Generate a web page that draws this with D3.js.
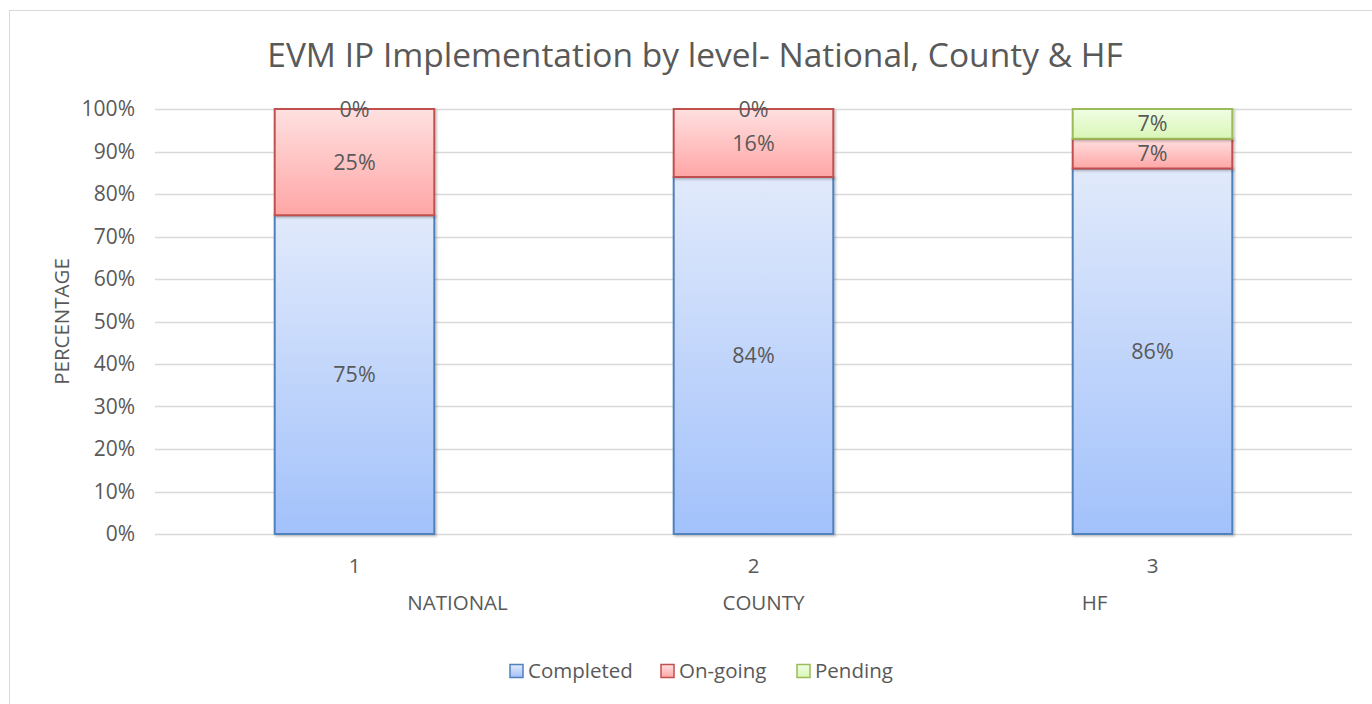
<!DOCTYPE html>
<html>
<head>
<meta charset="utf-8">
<script src="https://cdn.jsdelivr.net/npm/d3@7"></script>
<style>
  body { margin: 0; background: #fff; }
  svg { display: block; font-family: "Open Sans", "Liberation Sans", sans-serif; }
</style>
</head>
<body>
<script>
// chart data
var levels = ["1", "2", "3"];
var levelNames = ["NATIONAL", "COUNTY", "HF"];
var seriesNames = ["Completed", "On-going", "Pending"];
var completed = [75, 84, 86];
var ongoing = [25, 16, 7];
var pending = [0, 0, 7];
var yTicks = [0, 10, 20, 30, 40, 50, 60, 70, 80, 90, 100];

var width = 1372, height = 704;
var textCol = "#595959";

var rows = levels.map((l, i) => ({
    level: l, name: levelNames[i],
    "Completed": completed[i], "On-going": ongoing[i], "Pending": pending[i]
}));

var stacked = d3.stack().keys(seriesNames)(rows);

const svg = d3.select("body").append("svg")
    .attr("width", width)
    .attr("height", height);

// gradients per series
var grads = [
    { id: "gC", top: "#e1eafb", bot: "#a2c1fb", stroke: "#4f81bd" },
    { id: "gO", top: "#ffe0e0", bot: "#ffa6a6", stroke: "#c0504d" },
    { id: "gP", top: "#f0fde4", bot: "#d9f6b6", stroke: "#9bbb59" }
];
const defs = svg.append("defs");
grads.forEach(g => {
    const lg = defs.append("linearGradient").attr("id", g.id)
        .attr("x1", 0).attr("y1", 0).attr("x2", 0).attr("y2", 1);
    lg.append("stop").attr("offset", "0%").attr("stop-color", g.top);
    lg.append("stop").attr("offset", "100%").attr("stop-color", g.bot);
});
const shadow = defs.append("filter").attr("id", "sh")
    .attr("x", "-10%").attr("y", "-10%").attr("width", "130%").attr("height", "130%");
shadow.append("feDropShadow").attr("dx", 1.5).attr("dy", 1.5).attr("stdDeviation", 1.2)
    .attr("flood-color", "#000").attr("flood-opacity", 0.25);

// outer chart border
svg.append("rect")
    .attr("x", 9.5).attr("y", 10.5)
    .attr("width", width + 20).attr("height", height + 20)
    .attr("fill", "none").attr("stroke", "#d9d9d9");

// plot area
var plotL = 155, plotR = 1352, plotT = 109, plotB = 534;

const x = d3.scaleBand()
    .domain(levels)
    .range([plotL, plotR])
    .paddingInner(0.6).paddingOuter(0.3);

// full category bands, for the axis labels
const xCat = d3.scaleBand().domain(levels).range([plotL, plotR]);

const y = d3.scaleLinear()
    .domain([0, 100])
    .range([plotB, plotT]);

// gridlines
svg.append("g")
    .selectAll("line")
    .data(yTicks)
    .join("line")
    .attr("x1", plotL).attr("x2", plotR)
    .attr("y1", d => Math.round(y(d)) + 0.5).attr("y2", d => Math.round(y(d)) + 0.5)
    .attr("stroke", "#d9d9d9").attr("stroke-width", 1.3);

// y tick labels
svg.append("g")
    .attr("text-anchor", "end")
    .selectAll("text")
    .data(yTicks)
    .join("text")
    .attr("x", 135)
    .attr("y", d => y(d))
    .attr("dy", "0.35em")
    .style("font-size", "21px")
    .style("fill", textCol)
    .text(d => d + "%");

// y axis title
svg.append("text")
    .attr("transform", `translate(62, ${(y(0) + y(100)) / 2}) rotate(-90)`)
    .attr("text-anchor", "middle")
    .attr("dy", "0.35em")
    .style("font-size", "20.5px")
    .style("fill", textCol)
    .text("PERCENTAGE");

// bars
const layer = svg.append("g")
    .selectAll("g")
    .data(stacked)
    .join("g")
    .attr("fill", (d, i) => `url(#${grads[i].id})`)
    .attr("stroke", (d, i) => grads[i].stroke);

layer.selectAll("rect")
    .data(d => d)
    .join("rect")
    .attr("filter", "url(#sh)")
    .attr("x", d => x(d.data.level))
    .attr("y", d => y(d[1]))
    .attr("width", x.bandwidth())
    .attr("height", d => y(d[0]) - y(d[1]))
    .attr("stroke-width", 2);

// value labels
layer.selectAll("text")
    .data(d => d)
    .join("text")
    .attr("x", d => x(d.data.level) + x.bandwidth() / 2)
    .attr("y", d => (y(d[0]) + y(d[1])) / 2)
    .attr("dy", "0.35em")
    .attr("text-anchor", "middle")
    .attr("stroke", "none")
    .style("font-size", "21.5px")
    .style("fill", textCol)
    .text(d => Math.round(d[1] - d[0]) + "%");

// category labels
svg.append("g")
    .attr("text-anchor", "middle")
    .selectAll("text")
    .data(levels)
    .join("text")
    .attr("x", d => xCat(d) + xCat.bandwidth() / 2)
    .attr("y", 566)
    .attr("dy", "0.35em")
    .style("font-size", "20.5px")
    .style("fill", textCol)
    .text(d => d);

var nameOffsets = [103, 10, -58];
svg.append("g")
    .attr("text-anchor", "middle")
    .selectAll("text")
    .data(levelNames)
    .join("text")
    .attr("x", (d, i) => xCat(levels[i]) + xCat.bandwidth() / 2 + nameOffsets[i])
    .attr("y", 603)
    .attr("dy", "0.35em")
    .style("font-size", "20.5px")
    .style("fill", textCol)
    .text(d => d);

// title
svg.append("text")
    .attr("x", 695)
    .attr("y", 55)
    .attr("dy", "0.35em")
    .attr("text-anchor", "middle")
    .style("font-size", "33.5px")
    .style("fill", textCol)
    .text("EVM IP Implementation by level- National, County & HF");

// legend
var legendX = [510, 661, 797];
const legend = svg.append("g")
    .selectAll("g")
    .data(seriesNames)
    .join("g")
    .attr("transform", (d, i) => `translate(${legendX[i]}, 671)`);

legend.append("rect")
    .attr("x", 0).attr("y", -6.5)
    .attr("width", 13).attr("height", 13)
    .attr("fill", (d, i) => `url(#${grads[i].id})`)
    .attr("stroke", (d, i) => grads[i].stroke)
    .attr("stroke-width", 1.5);

legend.append("text")
    .attr("x", 18)
    .attr("dy", "0.35em")
    .style("font-size", "20.5px")
    .style("fill", textCol)
    .text(d => d);
</script>
</body>
</html>
